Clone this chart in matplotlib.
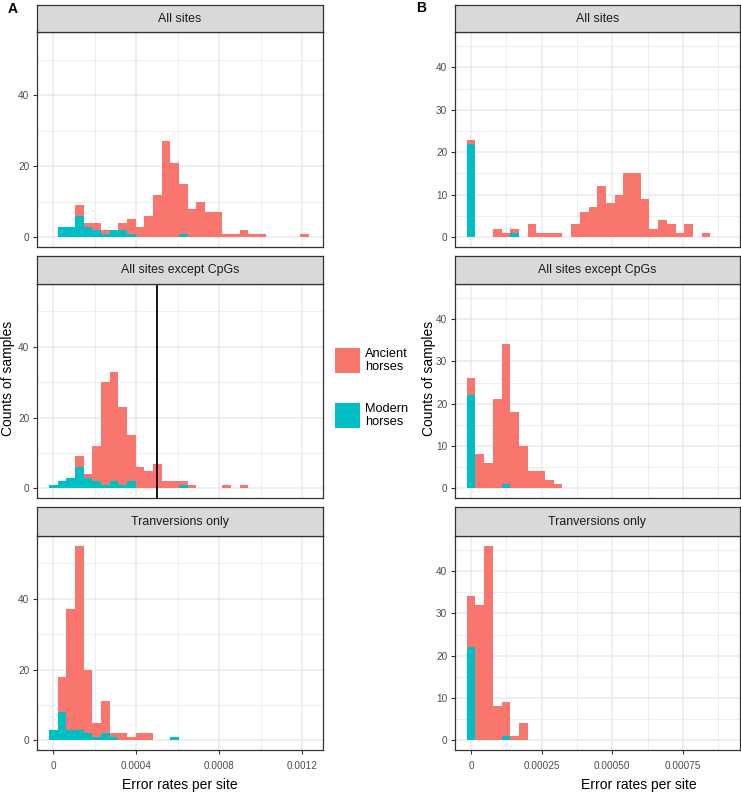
import numpy as np
import matplotlib
matplotlib.use('Agg')
import matplotlib.pyplot as plt
from matplotlib.patches import Rectangle

plt.rcParams['font.family'] = ['Liberation Sans', 'DejaVu Sans']

# ---- data: stacked histogram counts per bin (30 bins, same edges in every facet of a panel)
facet_titles = ['All sites', 'All sites except CpGs', 'Tranversions only']

# Panel A (bin width ~4.18e-5)
binw_A = 4.18e-5
modern_A = [
    [0, 3, 3, 6, 3, 2, 1, 2, 2, 1, 0, 0, 0, 0, 0, 1, 0, 0, 0, 0, 0, 0, 0, 0, 0, 0, 0, 0, 0, 0],
    [1, 2, 3, 6, 3, 2, 1, 2, 1, 2, 0, 0, 0, 0, 0, 1, 0, 0, 0, 0, 0, 0, 0, 0, 0, 0, 0, 0, 0, 0],
    [3, 8, 3, 3, 2, 1, 2, 1, 0, 0, 0, 0, 0, 0, 1, 0, 0, 0, 0, 0, 0, 0, 0, 0, 0, 0, 0, 0, 0, 0],
]
ancient_A = [
    [0, 0, 0, 3, 1, 2, 1, 0, 2, 4, 3, 6, 12, 27, 21, 14, 8, 10, 7, 7, 1, 1, 2, 1, 1, 0, 0, 0, 0, 1],
    [0, 0, 0, 3, 1, 10, 29, 31, 22, 13, 6, 5, 7, 2, 2, 1, 1, 0, 0, 0, 1, 0, 1, 0, 0, 0, 0, 0, 0, 0],
    [0, 10, 34, 52, 18, 4, 9, 1, 2, 1, 2, 2, 0, 0, 0, 0, 0, 0, 0, 0, 0, 0, 0, 0, 0, 0, 0, 0, 0, 0],
]
xticks_A = [0, 0.0004, 0.0008, 0.0012]
xticklabels_A = ['0', '0.0004', '0.0008', '0.0012']
xminor_A = [0.0002, 0.0006, 0.0010]
yticks_A = [0, 20, 40]
yminor_A = [10, 30, 50]
threshold_A = 0.0005  # vertical line in "All sites except CpGs"

# Panel B (bin width ~3.08e-5)
binw_B = 3.08e-5
modern_B = [
    [22, 0, 0, 0, 0, 1, 0, 0, 0, 0, 0, 0, 0, 0, 0, 0, 0, 0, 0, 0, 0, 0, 0, 0, 0, 0, 0, 0, 0, 0],
    [22, 0, 0, 0, 1, 0, 0, 0, 0, 0, 0, 0, 0, 0, 0, 0, 0, 0, 0, 0, 0, 0, 0, 0, 0, 0, 0, 0, 0, 0],
    [22, 0, 0, 0, 1, 0, 0, 0, 0, 0, 0, 0, 0, 0, 0, 0, 0, 0, 0, 0, 0, 0, 0, 0, 0, 0, 0, 0, 0, 0],
]
ancient_B = [
    [1, 0, 0, 2, 1, 1, 0, 3, 1, 1, 1, 0, 3, 6, 7, 12, 8, 10, 15, 15, 9, 2, 4, 3, 1, 3, 0, 1, 0, 0],
    [4, 8, 6, 21, 33, 18, 10, 4, 4, 2, 1, 0, 0, 0, 0, 0, 0, 0, 0, 0, 0, 0, 0, 0, 0, 0, 0, 0, 0, 0],
    [12, 32, 46, 8, 8, 1, 4, 0, 0, 0, 0, 0, 0, 0, 0, 0, 0, 0, 0, 0, 0, 0, 0, 0, 0, 0, 0, 0, 0, 0],
]
xticks_B = [0, 0.00025, 0.0005, 0.00075]
xticklabels_B = ['0', '0.00025', '0.00050', '0.00075']
xminor_B = [0.000125, 0.000375, 0.000625, 0.000875]
yticks_B = [0, 10, 20, 30, 40]
yminor_B = [5, 15, 25, 35, 45]

red = '#F8766D'
teal = '#00BFC4'
grid_col = '#EBEBEB'
dark = '#333333'

W, H = 741, 793
fig = plt.figure(figsize=(W / 100, H / 100), dpi=100)


def add_px(l, t, r, b):
    return fig.add_axes([l / W, 1 - b / H, (r - l) / W, (b - t) / H])


# (strip top, panel top, panel bottom) in pixels
rows = [(5, 32, 247), (256, 284, 498), (507, 536, 750)]


def draw_panel(left, right, binw, modern, ancient, xticks, xlabels, xminor,
               yticks, yminor, xlim, ylim, vline=None):
    centers = np.arange(len(modern[0])) * binw
    for i, (st, pt, pb) in enumerate(rows):
        ax = add_px(left, pt, right, pb)
        ax.set_axisbelow(True)
        ax.bar(centers, modern[i], width=binw, color=teal, linewidth=0)
        ax.bar(centers, ancient[i], width=binw, bottom=modern[i], color=red, linewidth=0)
        if vline is not None and i == 1:
            ax.axvline(vline, color='black', lw=1.3)
        ax.set_xlim(xlim)
        ax.set_ylim(ylim)
        ax.set_xticks(xticks)
        ax.set_xticks(xminor, minor=True)
        ax.set_yticks(yticks)
        ax.set_yticks(yminor, minor=True)
        ax.grid(which='major', color=grid_col, lw=1.1)
        ax.grid(which='minor', color=grid_col, lw=0.6)
        ax.tick_params(which='minor', length=0)
        ax.tick_params(which='major', length=3, width=0.8, color=dark,
                       labelsize=7.2, labelcolor='#4D4D4D', pad=2.5)
        if i < 2:
            ax.tick_params(axis='x', which='major', length=0, labelbottom=False)
        else:
            ax.set_xticklabels(xlabels)
            ax.tick_params(axis='x', pad=5)
        for s in ax.spines.values():
            s.set_color(dark)
            s.set_linewidth(0.9)

        sax = add_px(left, st, right, pt)
        sax.set_facecolor('#D9D9D9')
        sax.set_xticks([])
        sax.set_yticks([])
        for s in sax.spines.values():
            s.set_color(dark)
            s.set_linewidth(0.9)
        sax.text(0.5, 0.5, facet_titles[i], transform=sax.transAxes, ha='center',
                 va='center', fontsize=8.9, color='#1A1A1A')


draw_panel(37, 323, binw_A, modern_A, ancient_A, xticks_A, xticklabels_A, xminor_A,
           yticks_A, yminor_A, (-7.9e-5, 0.0013), (-2.75, 57.75), vline=threshold_A)
draw_panel(455, 740, binw_B, modern_B, ancient_B, xticks_B, xticklabels_B, xminor_B,
           yticks_B, yminor_B, (-5.7e-5, 9.52e-4), (-2.3, 48.3))

# axis titles
fig.text(180 / W, 1 - 785 / H, 'Error rates per site', ha='center', va='center', fontsize=10)
fig.text(639 / W, 1 - 785 / H, 'Error rates per site', ha='center', va='center', fontsize=10)
fig.text(8 / W, 1 - 378 / H, 'Counts of samples', ha='center', va='center', rotation=90, fontsize=10)
fig.text(429 / W, 1 - 378 / H, 'Counts of samples', ha='center', va='center', rotation=90, fontsize=10)

# panel letters
fig.text(13 / W, 1 - 9 / H, 'A', ha='center', va='center', fontsize=10, fontweight='bold')
fig.text(421 / W, 1 - 8 / H, 'B', ha='center', va='center', fontsize=10, fontweight='bold')

# legend
for y0, col, lab in [(348, red, 'Ancient\nhorses'), (403, teal, 'Modern\nhorses')]:
    fig.add_artist(Rectangle((335 / W, 1 - (y0 + 25) / H), 25 / W, 25 / H,
                             transform=fig.transFigure, color=col, lw=0))
    fig.text(365 / W, 1 - (y0 + 12.5) / H, lab, ha='left', va='center',
             fontsize=9.2, linespacing=1.15)

fig.savefig('out.png', dpi=100)
